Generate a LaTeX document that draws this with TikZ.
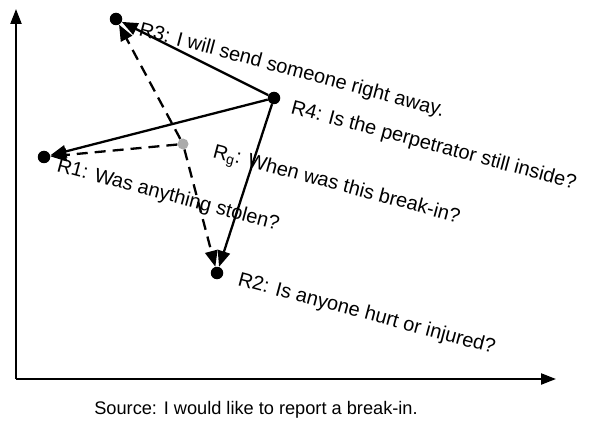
\documentclass[tikz,border=0pt]{standalone}
\usepackage{fontspec}
\setmainfont{Liberation Sans}
\usetikzlibrary{arrows.meta}
\begin{document}
\begin{tikzpicture}[x=1pt,y=-1pt,
  dot/.style={circle,fill=black,inner sep=0pt,minimum size=12.5pt},
  gdot/.style={circle,fill=black!33,inner sep=0pt,minimum size=11pt},
  arr/.style={line width=2.3pt,-{Triangle[length=16pt,width=12.5pt]}},
  darr/.style={arr,dash pattern=on 11pt off 7pt},
  axis/.style={line width=2.3pt,-{Triangle[length=15pt,width=11pt]}},
  lbl/.style={font=\fontsize{20}{24}\selectfont,rotate=-15,anchor=base west,inner sep=0pt}]
\useasboundingbox (0,0) rectangle (589,425);
\coordinate (O) at (16,379);
\coordinate (Y) at (16,9);
\coordinate (X) at (556,379);
\draw[axis] (O) -- (Y);
\draw[axis] (O) -- (X);
\node[dot] (r3) at (116,19) {};
\node[dot] (r4) at (274,98) {};
\node[dot] (r1) at (44,157) {};
\node[dot] (r2) at (217,273) {};
\node[gdot] (rg) at (183,144) {};
\draw[arr] (r4) -- (r3);
\draw[arr] (r4) -- (r1);
\draw[arr] (r4) -- (r2);
\draw[darr] (rg) -- (r3);
\draw[darr] (rg) -- (r1);
\draw[darr] (rg) -- (r2);
\node[lbl] (t3) at (138,35) {R3: I will send someone right away.};
\node[lbl] (t4) at (290,113) {R4: Is the perpetrator still inside?};
\node[lbl] (tg) at (212,157) {R\textsubscript{g}: When was this break-in?};
\node[lbl] (t1) at (56,171) {R1: Was anything stolen?};
\node[lbl] (t2) at (237,285) {R2: Is anyone hurt or injured?};
\node[font=\fontsize{18.2}{22}\selectfont] (src) at (256,410) {Source: I would like to report a break-in.};
\end{tikzpicture}
\end{document}
